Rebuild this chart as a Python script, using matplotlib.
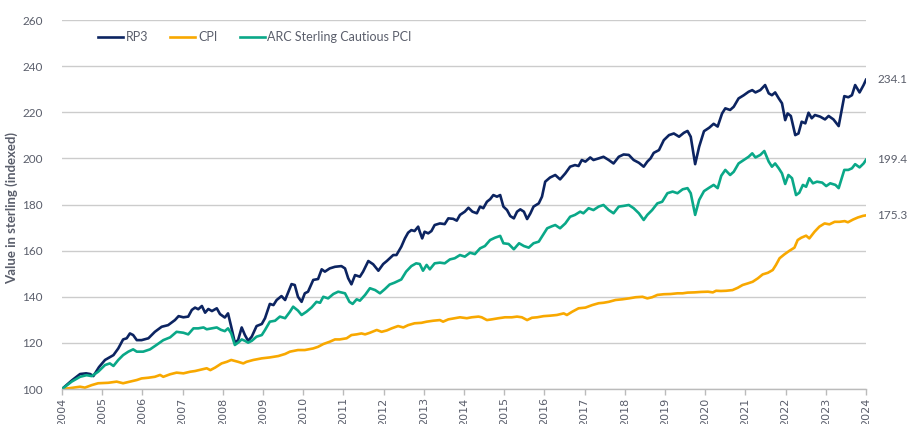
import matplotlib.pyplot as plt

# ===== DATA (decimal years, indexed value) =====
rp3_dates = [2004.00, 2004.25, 2004.45, 2004.60, 2004.70, 2004.78, 2004.92, 2005.07, 2005.28, 2005.40,
             2005.52, 2005.61, 2005.69, 2005.77, 2005.86, 2005.98, 2006.15, 2006.31, 2006.48, 2006.64,
             2006.81, 2006.90, 2007.02, 2007.14, 2007.23, 2007.31, 2007.39, 2007.48, 2007.56, 2007.64,
             2007.73, 2007.85, 2007.93, 2008.05, 2008.13, 2008.21, 2008.30, 2008.38, 2008.47, 2008.55,
             2008.63, 2008.72, 2008.84, 2008.97, 2009.05, 2009.17, 2009.26, 2009.34, 2009.46, 2009.55,
             2009.71, 2009.79, 2009.87, 2009.96, 2010.04, 2010.12, 2010.25, 2010.37, 2010.46, 2010.54,
             2010.66, 2010.79, 2010.95, 2011.04, 2011.12, 2011.20, 2011.29, 2011.41, 2011.49, 2011.62,
             2011.74, 2011.87, 2011.99, 2012.08, 2012.24, 2012.32, 2012.44, 2012.53, 2012.61, 2012.69,
             2012.77, 2012.86, 2012.90, 2012.96, 2013.02, 2013.11, 2013.19, 2013.27, 2013.40, 2013.52,
             2013.61, 2013.73, 2013.82, 2013.90, 2014.02, 2014.11, 2014.21, 2014.32, 2014.40, 2014.48,
             2014.57, 2014.65, 2014.73, 2014.82, 2014.90, 2014.98, 2015.07, 2015.15, 2015.24, 2015.32,
             2015.40, 2015.49, 2015.57, 2015.65, 2015.73, 2015.86, 2015.94, 2016.02, 2016.14, 2016.27,
             2016.39, 2016.52, 2016.64, 2016.76, 2016.85, 2016.93, 2017.02, 2017.14, 2017.22, 2017.35,
             2017.47, 2017.60, 2017.72, 2017.85, 2017.97, 2018.10, 2018.22, 2018.35, 2018.47, 2018.56,
             2018.64, 2018.72, 2018.85, 2018.97, 2019.10, 2019.22, 2019.35, 2019.47, 2019.56, 2019.64,
             2019.75, 2019.85, 2019.97, 2020.10, 2020.21, 2020.31, 2020.42, 2020.50, 2020.62, 2020.71,
             2020.83, 2020.96, 2021.08, 2021.17, 2021.25, 2021.37, 2021.49, 2021.58, 2021.66, 2021.74,
             2021.83, 2021.91, 2021.99, 2022.05, 2022.13, 2022.24, 2022.32, 2022.40, 2022.49, 2022.57,
             2022.65, 2022.73, 2022.86, 2022.98, 2023.07, 2023.19, 2023.32, 2023.46, 2023.56, 2023.65,
             2023.73, 2023.84, 2023.94, 2024.00]
rp3_values = [100.0, 103.8, 106.5, 106.8, 106.5, 105.6, 109.5, 112.6, 114.7, 117.6,
              121.5, 122.0, 124.1, 123.4, 121.2, 121.2, 122.0, 124.8, 127.0, 127.7,
              129.9, 131.6, 131.1, 131.4, 134.3, 135.3, 134.6, 136.0, 133.1, 134.7,
              133.8, 135.0, 132.5, 131.0, 132.8, 127.0, 120.1, 121.2, 126.7, 123.4,
              120.9, 122.7, 127.3, 128.2, 130.7, 136.9, 136.4, 138.6, 140.3, 138.6,
              145.5, 145.1, 140.0, 137.8, 141.5, 142.2, 147.3, 147.7, 151.9, 150.9,
              152.3, 153.0, 153.3, 152.3, 148.0, 145.4, 149.4, 148.7, 150.9, 155.5,
              154.1, 151.3, 154.2, 155.5, 158.1, 158.1, 161.7, 165.3, 167.8, 168.9,
              168.5, 170.4, 168.2, 165.3, 168.2, 167.5, 168.5, 171.1, 171.8, 171.5,
              174.0, 173.8, 173.0, 175.5, 176.9, 178.6, 176.9, 176.2, 179.1, 178.4,
              181.2, 182.3, 184.1, 183.4, 184.1, 179.1, 177.6, 175.0, 174.0, 176.9,
              177.9, 176.9, 173.7, 176.1, 179.1, 180.5, 183.4, 189.9, 191.7, 192.8,
              190.9, 193.5, 196.4, 197.1, 196.7, 199.3, 198.6, 200.4, 199.3, 200.0,
              200.7, 199.3, 197.8, 200.7, 201.7, 201.5, 199.3, 198.1, 196.4, 198.6,
              200.0, 202.4, 203.6, 207.9, 210.1, 210.8, 209.4, 211.1, 211.9, 209.4,
              197.5, 205.1, 211.8, 213.3, 215.0, 213.8, 219.5, 221.7, 221.0, 222.4,
              226.0, 227.4, 228.9, 229.6, 228.6, 229.6, 231.8, 228.2, 227.4, 228.6,
              226.0, 223.9, 216.6, 219.5, 218.4, 210.1, 210.8, 215.9, 215.2, 219.8,
              217.4, 218.8, 218.1, 216.9, 218.4, 216.9, 214.0, 227.0, 226.5, 227.4,
              231.8, 228.6, 231.8, 234.1]

cpi_dates = [2004.00, 2004.16, 2004.45, 2004.57, 2004.74, 2004.90, 2005.15, 2005.36, 2005.52, 2005.69,
             2005.86, 2005.98, 2006.15, 2006.31, 2006.44, 2006.52, 2006.69, 2006.85, 2007.02, 2007.19,
             2007.31, 2007.48, 2007.60, 2007.69, 2007.81, 2007.97, 2008.10, 2008.21, 2008.38, 2008.51,
             2008.59, 2008.76, 2008.97, 2009.17, 2009.38, 2009.55, 2009.67, 2009.87, 2010.04, 2010.25,
             2010.37, 2010.50, 2010.66, 2010.79, 2010.91, 2011.08, 2011.20, 2011.33, 2011.45, 2011.54,
             2011.66, 2011.83, 2011.95, 2012.08, 2012.20, 2012.36, 2012.49, 2012.61, 2012.77, 2012.94,
             2013.07, 2013.23, 2013.40, 2013.48, 2013.61, 2013.77, 2013.90, 2014.07, 2014.19, 2014.36,
             2014.44, 2014.57, 2014.69, 2014.86, 2015.02, 2015.19, 2015.32, 2015.44, 2015.57, 2015.69,
             2015.82, 2015.98, 2016.14, 2016.31, 2016.48, 2016.56, 2016.69, 2016.85, 2017.02, 2017.19,
             2017.35, 2017.47, 2017.60, 2017.77, 2017.94, 2018.10, 2018.27, 2018.44, 2018.56, 2018.68,
             2018.81, 2018.97, 2019.14, 2019.31, 2019.44, 2019.56, 2019.73, 2019.90, 2020.07, 2020.19,
             2020.27, 2020.39, 2020.52, 2020.68, 2020.81, 2020.93, 2021.06, 2021.18, 2021.31, 2021.43,
             2021.56, 2021.68, 2021.76, 2021.85, 2021.97, 2022.10, 2022.22, 2022.30, 2022.39, 2022.51,
             2022.59, 2022.72, 2022.84, 2022.97, 2023.09, 2023.22, 2023.34, 2023.47, 2023.55, 2023.68,
             2023.80, 2023.93, 2024.00]
cpi_values = [100.0, 100.3, 101.0, 100.6, 101.7, 102.5, 102.7, 103.2, 102.5, 103.2,
              103.9, 104.6, 104.9, 105.3, 106.1, 105.3, 106.4, 107.1, 106.8, 107.5,
              107.8, 108.5, 109.0, 108.2, 109.3, 111.1, 111.8, 112.6, 111.8, 111.1,
              111.8, 112.6, 113.3, 113.7, 114.3, 115.2, 116.2, 116.9, 116.9, 117.6,
              118.3, 119.5, 120.5, 121.5, 121.5, 122.0, 123.4, 123.7, 124.1, 123.7,
              124.4, 125.6, 124.8, 125.4, 126.3, 127.3, 126.7, 127.7, 128.5, 128.7,
              129.2, 129.6, 129.9, 129.2, 130.2, 130.7, 131.1, 130.7, 131.1, 131.4,
              131.1, 129.9, 130.2, 130.7, 131.1, 131.1, 131.4, 131.1, 129.9, 130.9,
              131.1, 131.6, 131.8, 132.1, 132.8, 132.1, 133.5, 135.0, 135.3, 136.4,
              137.2, 137.4, 137.8, 138.6, 138.9, 139.3, 139.8, 140.0, 139.3, 139.8,
              140.8, 141.1, 141.2, 141.5, 141.5, 141.8, 141.9, 142.1, 142.2, 141.9,
              142.6, 142.5, 142.6, 142.9, 143.9, 145.1, 145.8, 146.5, 148.0, 149.7,
              150.4, 151.6, 153.8, 156.7, 158.4, 160.0, 161.3, 164.6, 165.6, 166.5,
              165.3, 168.2, 170.4, 171.8, 171.4, 172.5, 172.5, 172.8, 172.3, 173.5,
              174.4, 175.1, 175.3]

arc_dates = [2004.00, 2004.24, 2004.45, 2004.61, 2004.74, 2004.90, 2005.07, 2005.19, 2005.28, 2005.40,
             2005.52, 2005.65, 2005.77, 2005.86, 2006.02, 2006.19, 2006.35, 2006.52, 2006.69, 2006.85,
             2007.02, 2007.14, 2007.27, 2007.39, 2007.52, 2007.60, 2007.73, 2007.85, 2007.95, 2008.05,
             2008.13, 2008.21, 2008.30, 2008.38, 2008.47, 2008.55, 2008.63, 2008.72, 2008.84, 2008.97,
             2009.05, 2009.17, 2009.30, 2009.42, 2009.55, 2009.67, 2009.75, 2009.87, 2009.96, 2010.08,
             2010.21, 2010.33, 2010.42, 2010.50, 2010.62, 2010.75, 2010.87, 2011.04, 2011.15, 2011.23,
             2011.33, 2011.41, 2011.54, 2011.66, 2011.79, 2011.91, 2012.03, 2012.15, 2012.27, 2012.44,
             2012.56, 2012.69, 2012.81, 2012.90, 2012.98, 2013.07, 2013.15, 2013.27, 2013.40, 2013.52,
             2013.65, 2013.77, 2013.90, 2014.02, 2014.15, 2014.27, 2014.40, 2014.52, 2014.65, 2014.77,
             2014.90, 2014.98, 2015.11, 2015.24, 2015.37, 2015.49, 2015.61, 2015.73, 2015.86, 2015.94,
             2016.07, 2016.19, 2016.27, 2016.39, 2016.52, 2016.64, 2016.76, 2016.89, 2016.97, 2017.10,
             2017.22, 2017.35, 2017.47, 2017.60, 2017.72, 2017.85, 2017.97, 2018.10, 2018.22, 2018.35,
             2018.47, 2018.56, 2018.68, 2018.81, 2018.93, 2019.06, 2019.19, 2019.31, 2019.44, 2019.56,
             2019.64, 2019.75, 2019.85, 2019.97, 2020.10, 2020.21, 2020.31, 2020.40, 2020.50, 2020.62,
             2020.71, 2020.83, 2020.96, 2021.08, 2021.17, 2021.25, 2021.37, 2021.47, 2021.58, 2021.66,
             2021.74, 2021.83, 2021.91, 2021.99, 2022.07, 2022.16, 2022.26, 2022.34, 2022.43, 2022.51,
             2022.59, 2022.68, 2022.78, 2022.91, 2023.01, 2023.11, 2023.24, 2023.32, 2023.46, 2023.56,
             2023.65, 2023.73, 2023.84, 2023.94, 2024.00]
arc_values = [100.0, 103.2, 105.3, 106.0, 105.6, 107.5, 110.4, 111.1, 110.0, 112.6,
              114.7, 116.2, 117.2, 116.2, 116.2, 117.2, 119.1, 121.2, 122.4, 124.8,
              124.4, 123.7, 126.3, 126.3, 126.7, 125.9, 126.3, 126.7, 125.7, 125.1,
              126.3, 124.1, 119.1, 120.1, 121.5, 120.9, 120.1, 120.9, 122.7, 123.4,
              125.6, 129.2, 129.6, 131.4, 130.7, 133.5, 135.7, 134.0, 132.1, 133.5,
              135.4, 137.8, 137.4, 140.0, 139.3, 141.2, 142.2, 141.5, 137.8, 136.9,
              138.9, 138.3, 140.8, 143.7, 142.9, 141.5, 143.3, 145.3, 146.1, 147.5,
              150.9, 153.3, 154.5, 154.2, 151.3, 153.8, 151.9, 154.5, 154.8, 154.5,
              156.2, 156.7, 158.1, 157.4, 159.1, 158.5, 161.0, 162.0, 164.6, 165.6,
              166.4, 163.2, 162.9, 160.6, 163.2, 162.0, 161.3, 163.2, 163.9, 166.1,
              169.7, 170.6, 171.1, 169.7, 171.8, 174.7, 175.5, 176.9, 176.2, 178.4,
              177.6, 179.1, 179.8, 177.6, 176.2, 179.1, 179.4, 179.8, 178.4, 176.2,
              173.3, 175.5, 177.6, 180.5, 181.2, 184.9, 185.6, 184.9, 186.6, 187.1,
              184.9, 175.5, 182.0, 185.8, 187.3, 188.5, 187.1, 192.5, 195.0, 192.8,
              194.2, 197.8, 199.3, 200.7, 202.2, 200.4, 201.5, 203.2, 198.6, 196.4,
              197.8, 195.7, 193.5, 188.9, 192.8, 191.4, 184.1, 185.1, 188.5, 187.7,
              191.4, 189.2, 189.9, 189.5, 188.0, 189.2, 188.5, 187.1, 195.0, 195.0,
              195.7, 197.5, 196.1, 197.8, 199.4]

years = list(range(2004, 2025))
y_ticks = [100, 120, 140, 160, 180, 200, 220, 240, 260]

# ===== STYLE =====
navy = '#0c2461'
orange = '#f8a800'
teal = '#0aa888'
grey_text = '#5a5e6b'
grid_col = '#cccccc'

plt.rcParams['font.family'] = ['Lato', 'DejaVu Sans']

fig = plt.figure(figsize=(9.09, 4.24), dpi=100)
ax = fig.add_axes([0.0682, 0.0825, 0.8845, 0.8703])

ax.plot(rp3_dates, rp3_values, color=navy, lw=1.9, label='RP3', solid_joinstyle='round')
ax.plot(cpi_dates, cpi_values, color=orange, lw=1.9, label='CPI', solid_joinstyle='round')
ax.plot(arc_dates, arc_values, color=teal, lw=1.9, label='ARC Sterling Cautious PCI', solid_joinstyle='round')

# end labels
for vals in (rp3_values, arc_values, cpi_values):
    ax.annotate(f'{vals[-1]:.1f}', xy=(2024, vals[-1]), xytext=(8, 0), textcoords='offset points',
                va='center', ha='left', fontsize=8.5, color=grey_text, annotation_clip=False)

ax.set_xlim(2004, 2024)
ax.set_ylim(100, 260)
ax.set_yticks(y_ticks)
ax.set_xticks(years)
ax.set_xticklabels([str(y) for y in years], rotation=90, fontsize=8, color=grey_text, family='DejaVu Sans')
ax.tick_params(axis='y', length=0, pad=14, labelsize=8.5, labelcolor=grey_text)
ax.tick_params(axis='x', length=4, width=1, color='#bbbbbb', pad=2)

ax.grid(axis='y', color=grid_col, lw=1)
ax.set_axisbelow(True)
for s in ['top', 'right', 'left']:
    ax.spines[s].set_visible(False)
ax.spines['bottom'].set_color('#bbbbbb')
ax.spines['bottom'].set_linewidth(1)

ax.set_ylabel('Value in sterling (indexed)', fontsize=9.5, fontweight='bold', color=grey_text)
ax.yaxis.set_label_coords(-0.054, 0.49)

ax.legend(loc='center left', bbox_to_anchor=(0.037, 0.953), ncol=3, frameon=False, fontsize=9,
          handlelength=2.0, handletextpad=0.2, columnspacing=1.8, borderpad=0, labelcolor=grey_text)

plt.savefig('out.png', dpi=100)
